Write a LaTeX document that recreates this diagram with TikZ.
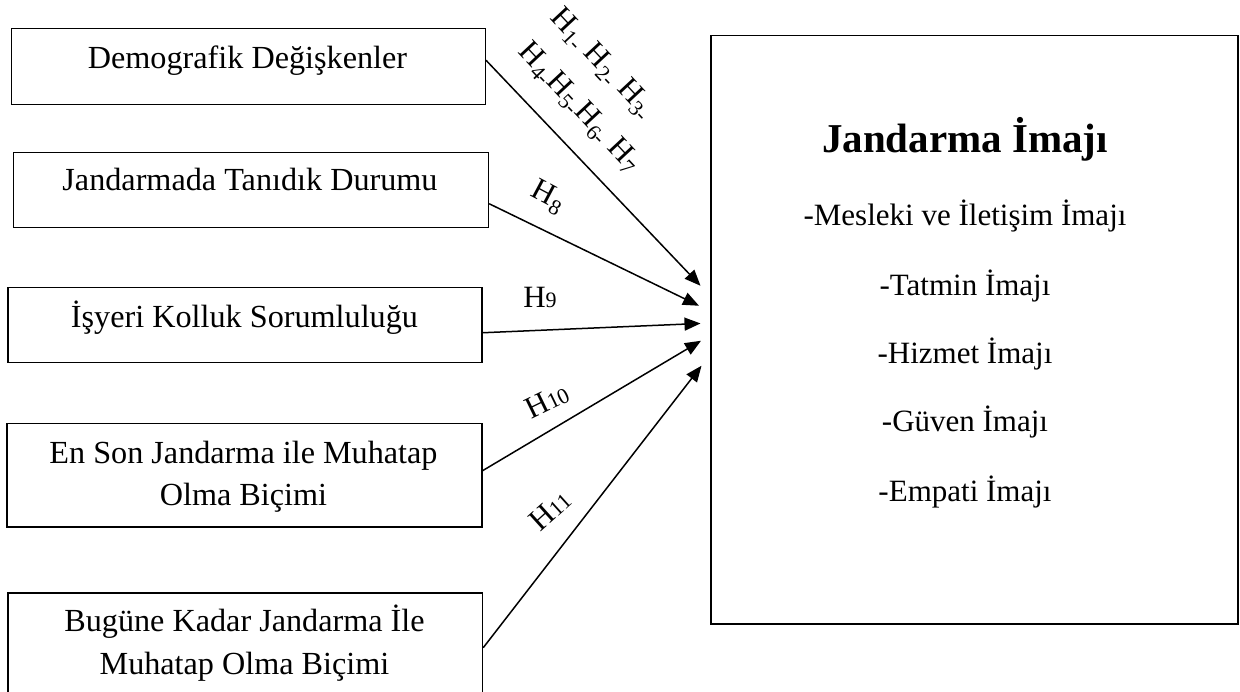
\documentclass[tikz,border=0pt]{standalone}
\usepackage{fontspec}
\setmainfont{Liberation Serif}
\usetikzlibrary{arrows.meta}
\begin{document}
\begin{tikzpicture}[x=1pt,y=-1pt,
  box/.style={draw, line width=1.5pt, inner sep=0pt, anchor=north west},
  txt/.style={font=\fontsize{31}{42.3}\selectfont, align=center, inner sep=0pt},
  ltxt/.style={font=\fontsize{32.2}{42.3}\selectfont, align=center, inner sep=0pt},
  ttl/.style={font=\fontsize{41}{48}\selectfont\bfseries, inner sep=0pt},
  hlbl/.style={font=\fontsize{31}{42}\selectfont, inner sep=0pt},
  arr/.style={line width=1.5pt, -{Triangle[length=16pt,width=13pt]}}]
\useasboundingbox (0,0) rectangle (1240,692);
% left boxes
\node[box, minimum width=474pt, minimum height=76pt] (b1) at (10.5,28) {};
\node[box, minimum width=475pt, minimum height=75pt] (b2) at (12.7,152) {};
\node[box, minimum width=473.7pt, minimum height=75pt] (b3) at (7.3,287) {};
\node[box, minimum width=475pt, minimum height=103pt] (b4) at (6,423) {};
\node[box, minimum width=474.4pt, minimum height=105pt] (b5) at (7.3,592) {};
\node[ltxt, anchor=base] (t1) at (247.5,68.3) {Demografik Değişkenler};
\node[ltxt, anchor=base] (t2) at (250,191) {Jandarmada Tanıdık Durumu};
\node[ltxt, anchor=base] (t3) at (244.5,327.3) {İşyeri Kolluk Sorumluluğu};
\node[ltxt, anchor=base] (t4a) at (243.5,463.3) {En Son Jandarma ile Muhatap};
\node[ltxt, anchor=base] (t4b) at (243.5,505.6) {Olma Biçimi};
\node[ltxt, anchor=base] (t5a) at (244.5,631.7) {Bugüne Kadar Jandarma İle};
\node[ltxt, anchor=base] (t5b) at (244.5,674) {Muhatap Olma Biçimi};
% right box
\node[box, minimum width=527pt, minimum height=588pt] (rb) at (710,35) {};
\node[ttl, anchor=base] (rt) at (965,152.7) {Jandarma İmajı};
\node[txt, anchor=base] (r1) at (965,225.9) {-Mesleki ve İletişim İmajı};
\node[txt, anchor=base] (r2) at (965,295.2) {-Tatmin İmajı};
\node[txt, anchor=base] (r3) at (965,363.8) {-Hizmet İmajı};
\node[txt, anchor=base] (r4) at (965,431.9) {-Güven İmajı};
\node[txt, anchor=base] (r5) at (965,501.2) {-Empati İmajı};
% arrows
\draw[arr] ([yshift=6.5pt]b1.east) -- ([xshift=-9.5pt,yshift=44pt]rb.west);
\draw[arr] ([yshift=-13.5pt]b2.east) -- ([xshift=-11pt,yshift=24pt]rb.west);
\draw[arr] ([yshift=-7.5pt]b3.east) -- ([xshift=-9.5pt,yshift=6.3pt]rb.west);
\draw[arr] ([yshift=4.5pt]b4.east) -- ([xshift=-9pt,yshift=-11pt]rb.west);
\draw[arr] ([yshift=-2.5pt]b5.east) -- ([xshift=-8.5pt,yshift=-36pt]rb.west);
% labels
\node[hlbl, rotate=-47] (l1a) at (602,64) {H\textsubscript{1-} H\textsubscript{2-} H\textsubscript{3-}};
\node[hlbl, rotate=-47] (l1b) at (579,108) {H\textsubscript{4-}H\textsubscript{5-}H\textsubscript{6-} H\textsubscript{7}};
\node[hlbl, rotate=-28] (l2) at (548,197) {H\textsubscript{8}};
\node[hlbl, anchor=base] (l3) at (540,308) {H{\fontsize{22}{22}\selectfont 9}};
\node[hlbl, rotate=26] (l4) at (547,401) {H{\fontsize{22}{22}\selectfont 10}};
\node[hlbl, rotate=42] (l5) at (550,510) {H{\fontsize{22}{22}\selectfont 11}};
\end{tikzpicture}
\end{document}
